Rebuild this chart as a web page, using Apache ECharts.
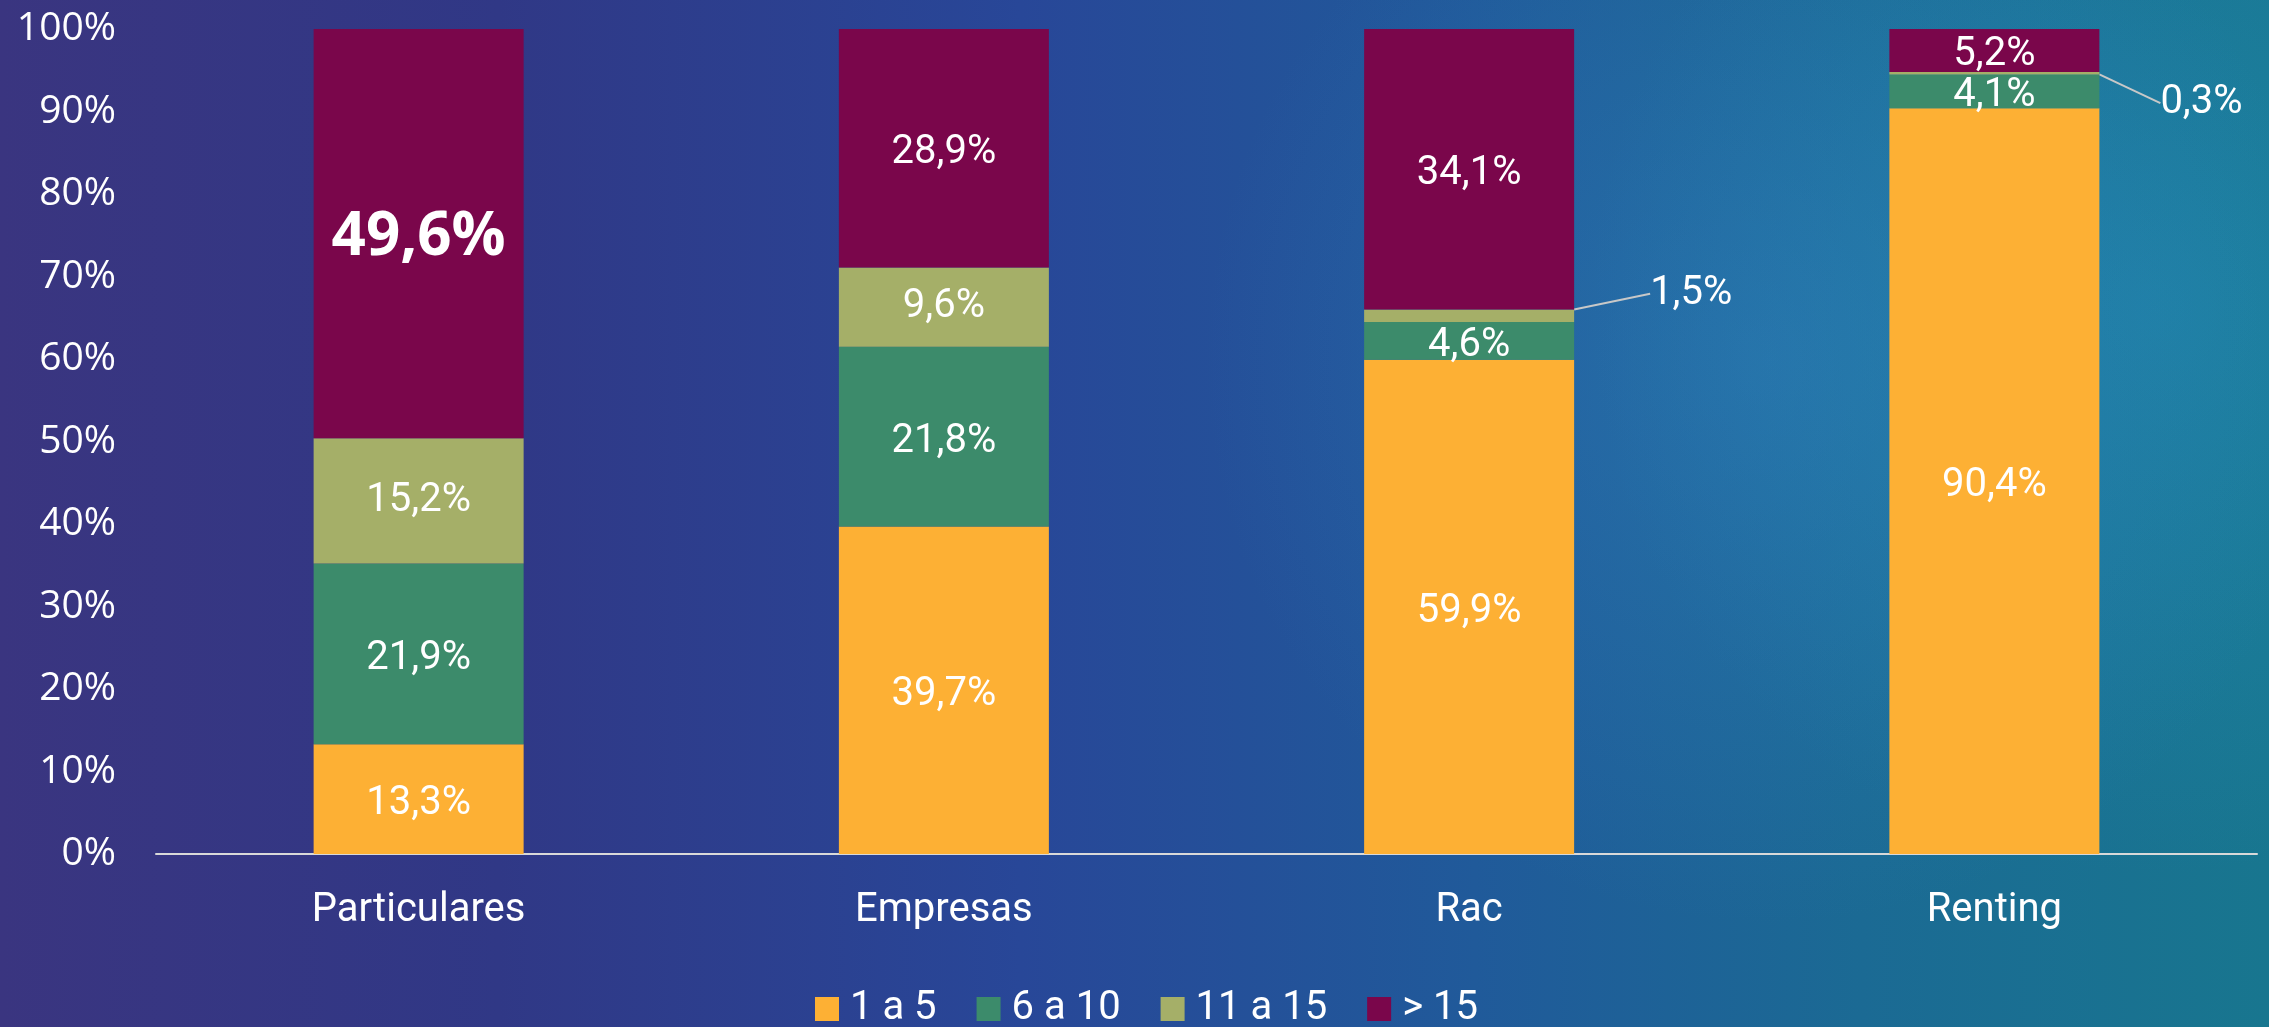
<!DOCTYPE html>
<html>
<head>
<meta charset="utf-8">
<script src="https://cdn.jsdelivr.net/npm/echarts@6/dist/echarts.min.js"></script>
<style>
html,body{margin:0;padding:0;width:2269px;height:1027px;overflow:hidden;}
body{background:
 radial-gradient(circle at 78% 35%, rgba(60,140,210,0.30) 0%, rgba(60,140,210,0) 30%),
 radial-gradient(circle at 95% 30%, rgba(40,150,200,0.35) 0%, rgba(40,150,200,0) 25%),
 linear-gradient(90deg, #3a3580 0%, #303886 22%, #284798 45%, #205a9a 65%, #1b6a94 82%, #18768f 100%);}
#chart{width:2269px;height:1027px;}
</style>
</head>
<body>
<div id="chart"></div>
<script>
const categories = ['Particulares', 'Empresas', 'Rac', 'Renting'];
const seriesNames = ['1 a 5', '6 a 10', '11 a 15', '> 15'];
const s1a5 = [13.3, 39.7, 59.9, 90.4];
const s6a10 = [21.9, 21.8, 4.6, 4.1];
const s11a15 = [15.2, 9.6, 1.5, 0.3];
const sOver15 = [49.6, 28.9, 34.1, 5.2];
const yTicks = [0, 10, 20, 30, 40, 50, 60, 70, 80, 90, 100];
const colors = ['#FDB034', '#3C8B6B', '#A5AF68', '#7A064B'];

const fmt = v => String(v.toFixed(1)).replace('.', ',') + '%';
const baseLabel = {
  show: true, position: 'inside', color: '#ffffff',
  fontFamily: 'Roboto', fontSize: 40, offset: [0, 5],
  formatter: p => fmt(p.value)
};

function mkSeries(name, data, idx) {
  return {
    name: name, type: 'bar', stack: 'total', barWidth: 210,
    itemStyle: { color: colors[idx] },
    label: baseLabel,
    data: data.map(v => ({ value: v }))
  };
}

const series = [
  mkSeries(seriesNames[0], s1a5, 0),
  mkSeries(seriesNames[1], s6a10, 1),
  mkSeries(seriesNames[2], s11a15, 2),
  mkSeries(seriesNames[3], sOver15, 3)
];
// small segments: labels outside to the right with leader line
series[2].data = s11a15.map((v, i) => {
  if (i >= 2) return { value: v, label: { position: 'right', distance: 0, offset: [0, 0] }, labelLine: { show: true } };
  return { value: v };
});
series[2].labelLine = { show: false, lineStyle: { color: '#c8c8c8', width: 2 }, length2: 0 };
series[2].labelLayout = function (params) {
  if (params.dataIndex === 2) return { dx: 76, dy: -22 };
  if (params.dataIndex === 3) return { dx: 61, dy: 30 };
  return {};
};
// bold big label for Particulares > 15
series[3].data = sOver15.map((v, i) => i === 0
  ? { value: v, label: { fontFamily: 'Open Sans', fontWeight: 'bold', fontSize: 60, offset: [0, 4] } }
  : { value: v });

const chart = echarts.init(document.getElementById('chart'), null, { renderer: 'canvas' });
chart.setOption({
  backgroundColor: 'transparent',
  animation: false,
  grid: { left: 156, right: 12, top: 29, bottom: 173, containLabel: false },
  legend: {
    data: seriesNames, left: 810, top: 984,
    itemWidth: 24, itemHeight: 24, itemGap: 40,
    icon: 'rect',
    textStyle: { color: '#ffffff', fontFamily: 'Roboto', fontSize: 40, padding: [0, 0, 0, 6] }
  },
  xAxis: {
    type: 'category', data: categories,
    axisLine: { show: true, lineStyle: { color: '#d9d9d9', width: 2 } },
    axisTick: { show: false },
    axisLabel: { color: '#ffffff', fontFamily: 'Roboto', fontSize: 40, margin: 37 }
  },
  yAxis: {
    type: 'value', min: 0, max: 100, interval: 10,
    axisLine: { show: false }, axisTick: { show: false }, splitLine: { show: false },
    axisLabel: { color: '#ffffff', fontFamily: 'Open Sans', fontSize: 39, margin: 40,
      formatter: v => yTicks.indexOf(v) >= 0 ? v + '%' : '' }
  },
  series: series
});
</script>
</body>
</html>
